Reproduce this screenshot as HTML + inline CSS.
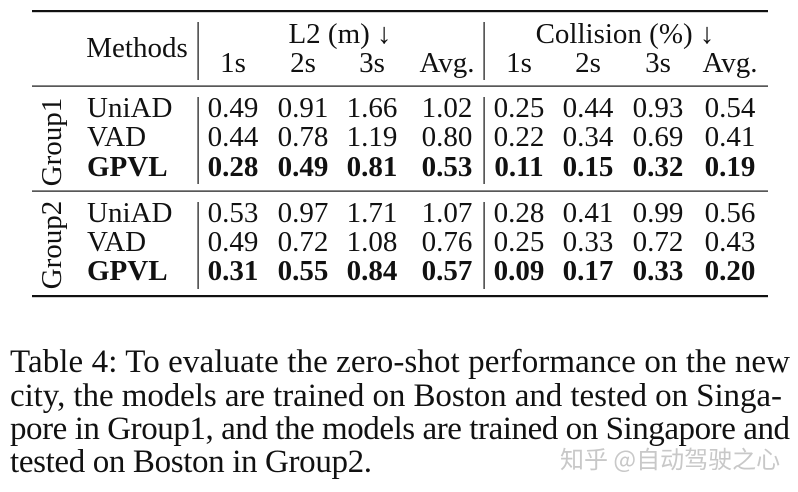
<!DOCTYPE html>
<html><head><meta charset="utf-8"><style>
html,body{margin:0;padding:0;background:#fff;}
svg{display:block;font-family:"Liberation Serif","Times New Roman",serif;}
</style></head><body>
<svg width="798" height="492" viewBox="0 0 798 492">
<g id="table" fill="#111">
<rect x="32" y="10" width="736" height="2.2"/>
<rect x="32" y="85.5" width="736" height="1.2"/>
<rect x="32" y="190.5" width="736" height="1.2"/>
<rect x="32" y="295" width="736" height="2.2"/>
<g>
<rect x="197.5" y="22" width="1.2" height="58"/><rect x="483.5" y="22" width="1.2" height="58"/>
<rect x="197.5" y="97" width="1.2" height="87"/><rect x="483.5" y="97" width="1.2" height="87"/>
<rect x="197.5" y="202" width="1.2" height="87"/><rect x="483.5" y="202" width="1.2" height="87"/>
</g>
<g font-size="29" text-anchor="middle">
<text x="137" y="57">Methods</text>
<text x="340" y="43">L2 (m) ↓</text>
<text x="625" y="43">Collision (%) ↓</text>
<text x="233" y="72">1s</text><text x="303" y="72">2s</text><text x="372" y="72">3s</text><text x="447" y="72">Avg.</text>
<text x="519" y="72">1s</text><text x="588" y="72">2s</text><text x="658" y="72">3s</text><text x="730" y="72">Avg.</text>
<text transform="translate(61,142) rotate(-90)">Group1</text>
<text transform="translate(61,245) rotate(-90)">Group2</text>
</g>
<g id="rows" font-size="29"></g>
</g>
<g font-size="33" fill="#111">
<text x="10" y="372" textLength="780" lengthAdjust="spacing">Table 4: To evaluate the zero-shot performance on the new</text>
<text x="10" y="406" textLength="772" lengthAdjust="spacing">city, the models are trained on Boston and tested on Singa-</text>
<text x="10" y="439" textLength="780" lengthAdjust="spacing">pore in Group1, and the models are trained on Singapore and</text>
<text x="10" y="472" textLength="362" lengthAdjust="spacing">tested on Boston in Group2.</text>
</g>
<text x="560" y="468" font-size="24" fill="#c8c8c8" style="font-family:'Noto Sans CJK SC',sans-serif">知乎 @自动驾驶之心</text>
</svg>
<script>
const methods = ["UniAD","VAD","GPVL","UniAD","VAD","GPVL"];
const l2Values = [[0.49,0.91,1.66,1.02],[0.44,0.78,1.19,0.80],[0.28,0.49,0.81,0.53],[0.53,0.97,1.71,1.07],[0.49,0.72,1.08,0.76],[0.31,0.55,0.84,0.57]];
const collisionValues = [[0.25,0.44,0.93,0.54],[0.22,0.34,0.69,0.41],[0.11,0.15,0.32,0.19],[0.28,0.41,0.99,0.56],[0.25,0.33,0.72,0.43],[0.09,0.17,0.33,0.20]];
const boldRows = [false,false,true,false,false,true];
const baselines = [117,146,176,222,251,280];
const colX = [233,303,372,447,519,588,658,730];
const NS = "http://www.w3.org/2000/svg";
const g = document.getElementById('rows');
methods.forEach((m,i)=>{
  const t = document.createElementNS(NS,'text');
  t.setAttribute('x',87); t.setAttribute('y',baselines[i]);
  if(boldRows[i]) t.setAttribute('font-weight','bold');
  t.textContent = m;
  
  
  g.appendChild(t);
  const vals = l2Values[i].concat(collisionValues[i]);
  vals.forEach((v,j)=>{
    const c = document.createElementNS(NS,'text');
    c.setAttribute('x',colX[j]); c.setAttribute('y',baselines[i]);
    c.setAttribute('text-anchor','middle');
    if(boldRows[i]) c.setAttribute('font-weight','bold');
    c.textContent = v.toFixed(2);
    
    
    g.appendChild(c);
  });
});
</script>
</body></html>
